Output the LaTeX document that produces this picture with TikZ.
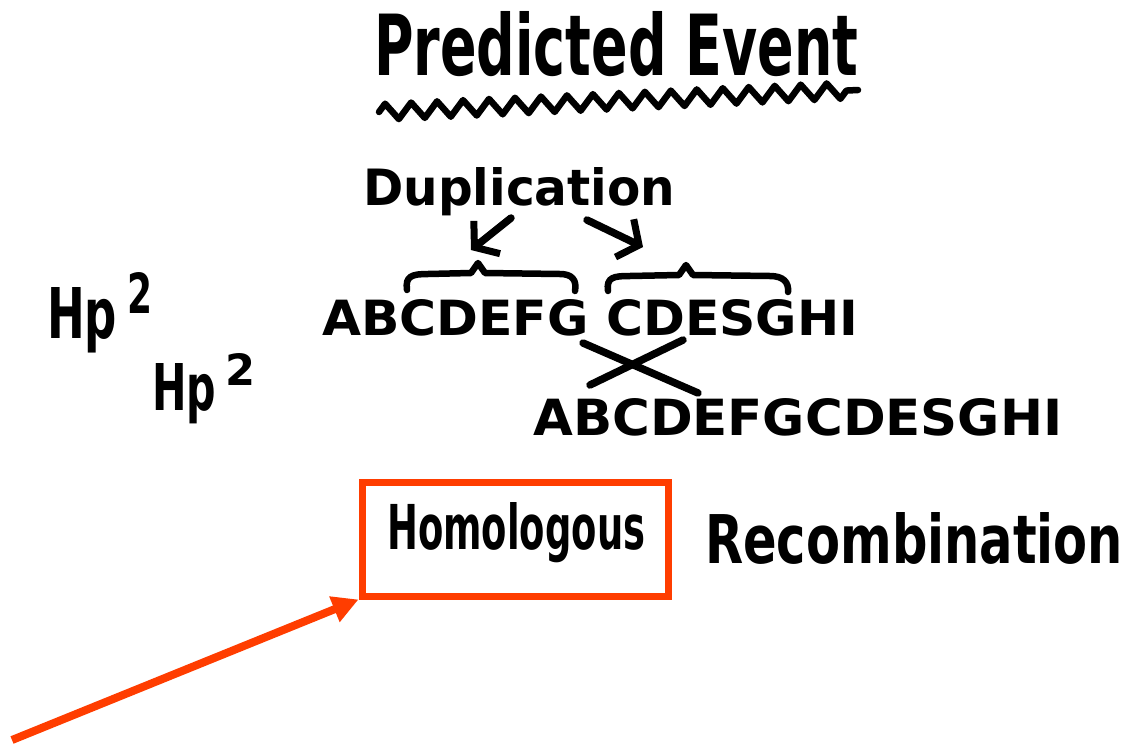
\documentclass[tikz,border=0pt]{standalone}
\usepackage{fontspec}
\setmainfont{DejaVu Sans}
\usepackage{graphicx}
\usetikzlibrary{arrows.meta,decorations.pathmorphing}
\definecolor{markred}{RGB}{255,61,0}
% bold lettering stretched to a given width and height (in pt)
\newcommand{\handtext}[3]{\resizebox{#1pt}{#2pt}{\bfseries #3}}
\begin{document}
\begin{tikzpicture}[x=1pt,y=-1pt,
  hand/.style={anchor=base west, inner sep=0pt, text=black},
  ink/.style={line width=7.5pt, line cap=round, line join=round},
  duparrow/.style={ink, -{Straight Barb[length=16pt,width=42pt,line width=7pt]}},
  redbox/.style={draw=markred, line width=7pt, inner sep=0pt},
  redarrow/.style={draw=markred, line width=8pt, -{Triangle[length=26pt,width=26pt]}}]
\useasboundingbox[fill=white] (0,0) rectangle (1130,747);

% heading with wavy underline
\node[hand] (title) at (374,75) {\handtext{484}{64}{Predicted Event}};
\coordinate (wavyL) at (379,112);
\coordinate (wavyR) at (858,90);
\draw[ink, line width=6.5pt, decorate, decoration={zigzag, segment length=26pt, amplitude=8pt}] (wavyL) -- (wavyR);

% duplication label and its two arrows
\node[hand] (dup) at (363,205) {\handtext{312}{38}{Duplication}};
\coordinate (laTail) at (511,218);
\coordinate (laHead) at (471,250);
\coordinate (raTail) at (587,220);
\coordinate (raHead) at (643,247);
\draw[duparrow] (laTail) -- (laHead);
\draw[duparrow] (raTail) -- (raHead);

% braces over the two copies
\draw[ink, line width=6.5pt] (407,290) .. controls (405,276) and (412,274) .. (428,274)
  -- (471,273) -- (478,263) -- (485,273) -- (560,274)
  .. controls (572,274) and (577,280) .. (575,291);
\draw[ink, line width=6.5pt] (608,291) .. controls (606,277) and (614,276) .. (630,276)
  -- (679,275) -- (686,265) -- (693,275) -- (770,276)
  .. controls (783,276) and (789,282) .. (788,292);

% sequences
\node[hand] (upper) at (322,335) {\handtext{536}{36}{ABCDEFG CDESGHI}};
\node[hand] (lower) at (533,435) {\handtext{529}{37}{ABCDEFGCDESGHI}};

% crossing-over mark
\coordinate (xa1) at (583,343);
\coordinate (xa2) at (698,393);
\coordinate (xb1) at (590,385);
\coordinate (xb2) at (683,340);
\draw[ink] (xa1) -- (xa2);
\draw[ink] (xb1) -- (xb2);

% Hp labels
\node[hand] (hp1) at (47,338) {\handtext{70}{51}{Hp}};
\node[hand] (hp1sup) at (127,313) {\handtext{25}{41}{2}};
\node[hand] (hp2) at (152,410) {\handtext{64}{47}{Hp}};
\node[hand] (hp2sup) at (225,385) {\handtext{30}{32}{2}};

% result
\node[hand] (homol) at (387,549) {\handtext{258}{47}{Homologous}};
\node[hand] (recomb) at (705,563) {\handtext{418}{51}{Recombination}};

% highlight box and pointer
\node[redbox, minimum width=306pt, minimum height=114pt] (box) at (515,539) {};
\coordinate (pointerTail) at (12,740);
\draw[redarrow] (pointerTail) -- (box.south west);
\end{tikzpicture}
\end{document}
